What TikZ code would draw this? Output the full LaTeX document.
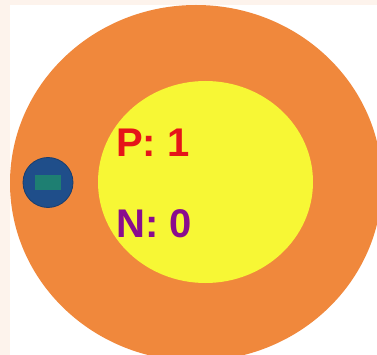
\documentclass[tikz,border=0pt]{standalone}
\usepackage{fontspec}
\setmainfont{Liberation Sans}
\definecolor{cream}{HTML}{FDF3EC}
\definecolor{shellorange}{HTML}{F0883C}
\definecolor{nucyellow}{HTML}{F7F735}
\definecolor{eblue}{HTML}{1F4E8A}
\definecolor{eteal}{HTML}{1E7F72}
\definecolor{pred}{HTML}{E51419}
\definecolor{npurple}{HTML}{8A0C8E}
\tikzset{
  lbl/.style={anchor=base west, inner sep=0pt, font=\fontsize{40}{40}\selectfont\bfseries}
}
\begin{document}
\begin{tikzpicture}[x=1pt,y=-1pt]
\useasboundingbox (0,0) rectangle (377,355);
\fill[white] (0,0) rectangle (377,355);
\fill[cream] (0,0) rectangle (377,5);
\fill[cream] (0,0) rectangle (10,355);
\begin{scope}
\clip (0,0) rectangle (377,355);
\fill[shellorange] (196,183) ellipse [x radius=186, y radius=178];
\end{scope}
\fill[nucyellow] (205.5,182) ellipse [x radius=107.5, y radius=101];
\node[circle, fill=eblue, draw=eblue!80!black, line width=0.8pt, minimum size=50pt, inner sep=0pt] (electron) at (48,182.5) {};
\node[rectangle, fill=eteal, minimum width=26pt, minimum height=15pt, inner sep=0pt] (core) at (electron.center) {};
\node[lbl, text=pred] (p) at (116,157) {P: 1};
\node[lbl, text=npurple] (n) at (116,237) {N: 0};
\end{tikzpicture}
\end{document}
